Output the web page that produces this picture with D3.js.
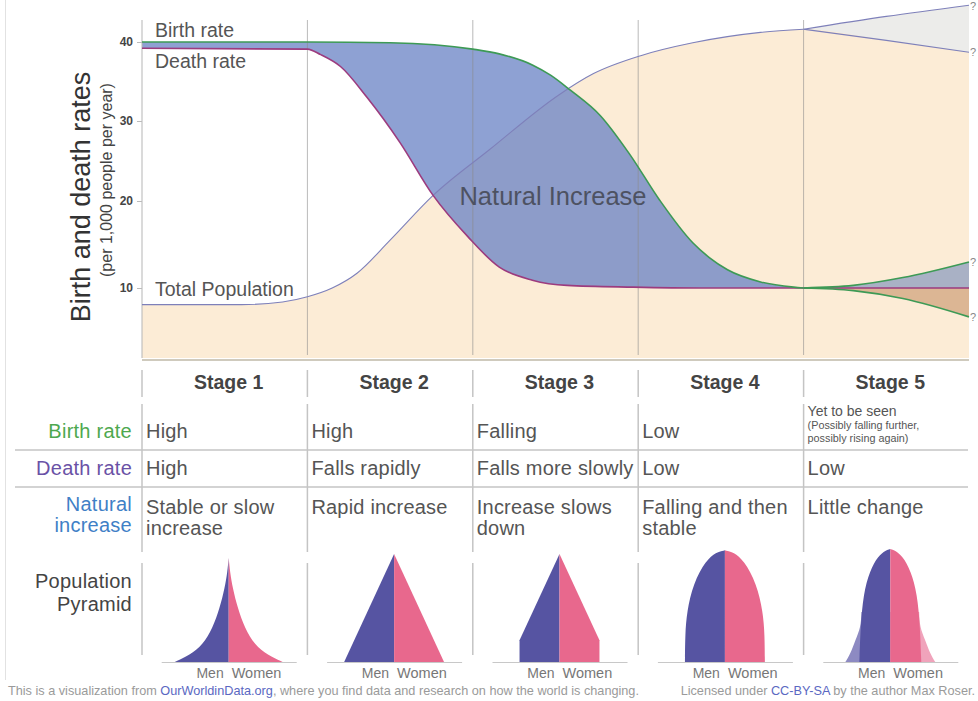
<!DOCTYPE html>
<html lang="en">
<head>
  <meta charset="utf-8">
  <title>Demographic transition</title>
  <script src="https://cdn.jsdelivr.net/npm/d3@7"></script>
  <style>
    body { margin: 0; background: #fff; }
    svg text { font-family: "Liberation Sans", Arial, Helvetica, sans-serif; }
  </style>
</head>
<body>
<svg width="978" height="701"></svg>
<script>
  // ---- data (x in stage units 0..5, y in births/deaths per 1,000) ----
  const stages = ["Stage 1", "Stage 2", "Stage 3", "Stage 4", "Stage 5"];
  const yTicks = [10, 20, 30, 40];

  const birthRate = [[0, 40], [1, 40], [1.5, 39.9], [2, 39.1], [2.16, 38.5], [2.36, 37.1], [2.47, 35.8],
    [2.59, 33.9], [2.77, 30.7], [2.95, 25.8], [3.13, 20.1], [3.33, 15.2], [3.43, 13.5], [3.54, 12.1],
    [3.74, 10.7], [3.94, 10.1], [4, 10]];
  const birthHigh5 = [[4, 10], [4.3, 10.3], [4.6, 11.2], [5, 13]];
  const birthLow5 = [[4, 10], [4.3, 9.7], [4.6, 8.8], [5, 6.7]];

  const deathRate = [[0, 39.2], [1, 39.1], [1.08, 38.4], [1.2, 36.9], [1.36, 33], [1.56, 27.3], [1.76, 20.7],
    [1.97, 15.9], [2.16, 12.4], [2.36, 10.9], [2.57, 10.3], [2.97, 10.1], [3.37, 10], [4, 10], [5, 10]];

  const population = [[0, 8.1], [0.6, 8.1], [0.85, 8.4], [1, 9], [1.15, 10], [1.3, 11.7], [1.5, 15.5],
    [1.76, 20.7], [2.1, 26.4], [2.52, 33.3], [2.73, 36.0], [3.02, 38.3], [3.33, 39.9], [3.74, 41.2], [4, 41.6]];
  const popHigh5 = [[4, 41.6], [4.5, 43.2], [5, 44.6]];
  const popLow5 = [[4, 41.6], [4.5, 40.2], [5, 38.7]];

  const birthText = ["High", "High", "Falling", "Low", null];
  const birthText5 = ["Yet to be seen", "(Possibly falling further,", "possibly rising again)"];
  const deathText = ["High", "Falls rapidly", "Falls more slowly", "Low", "Low"];
  const naturalText = [["Stable or slow", "increase"], ["Rapid increase"], ["Increase slows", "down"],
    ["Falling and then", "stable"], ["Little change"]];

  // pyramid profiles: [height, half width], both 0..100
  const pyramids = [
    [[0, 48.6], [6.3, 35.1], [15.3, 23.4], [30.6, 14.4], [48.6, 8.1], [66.7, 3.6], [81, 1.2], [93.7, 0]],
    [[0, 45], [97.3, 0]],
    [[0, 36], [19.5, 36], [97.3, 0]],
    [[0, 36], [25, 35.8], [45, 34.3], [70.7, 28.6], [91.6, 17], [99, 8], [100.6, 0]],
    [[0, 27.9], [31.5, 26.8], [61.3, 24.3], [82, 18.5], [95.5, 11], [100.6, 4], [101.8, 0]]
  ];
  const pyramidTail5 = [[0, 40.5], [7.2, 36], [19.8, 31.5], [31.5, 26.5], [45, 26]];

  // ---- setup ----
  const svg = d3.select("svg");
  const x = d3.scaleLinear().domain([0, 5]).range([142, 969]);
  const y = d3.scaleLinear().domain([2, 10, 20, 30, 40, 45]).range([358, 288, 201, 121, 42, 2]);
  const plotBottom = 358;

  const line = d3.line().x(d => x(d[0])).y(d => y(d[1])).curve(d3.curveMonotoneX);
  const areaBelow = d3.area().x(d => x(d[0])).y0(plotBottom).y1(d => y(d[1])).curve(d3.curveMonotoneX);
  const areaAbove = d3.area().x(d => x(d[0])).y0(0).y1(d => y(d[1])).curve(d3.curveMonotoneX);

  // faint frame on the left
  svg.append("line").attr("x1", 5.5).attr("x2", 5.5).attr("y1", 0).attr("y2", 680)
    .attr("stroke", "#e2e2e2");

  // population fills
  svg.append("path").datum(popHigh5).attr("d", areaBelow).attr("fill", "#ececea");
  svg.append("path").datum(population.concat(popLow5.slice(1))).attr("d", areaBelow).attr("fill", "#fcecd6");

  // natural increase: below birth rate and above death rate
  svg.append("clipPath").attr("id", "aboveDeath")
    .append("path").datum(deathRate).attr("d", areaAbove);
  svg.append("path").datum(birthRate).attr("d", areaBelow)
    .attr("clip-path", "url(#aboveDeath)")
    .attr("fill", "rgb(104,130,196)").attr("fill-opacity", 0.75);

  // stage 5 fills
  const deathLevel5 = deathRate[deathRate.length - 1][1];
  const area5 = d3.area().x(d => x(d[0])).y0(y(deathLevel5)).y1(d => y(d[1])).curve(d3.curveMonotoneX);
  svg.append("path").datum(birthHigh5).attr("d", area5).attr("fill", "#a9b1c5");
  svg.append("path").datum(birthLow5).attr("d", area5).attr("fill", "#dcb694");

  // stage dividers and axis
  svg.selectAll(".div").data([1, 2, 3, 4]).enter().append("line")
    .attr("x1", d => x(d)).attr("x2", d => x(d)).attr("y1", 20).attr("y2", 355)
    .attr("stroke", "#8a8a8a").attr("stroke-opacity", 0.6);
  svg.append("line").attr("x1", x(0)).attr("x2", x(0)).attr("y1", 20).attr("y2", plotBottom)
    .attr("stroke", "#b5b5b5");
  svg.append("line").attr("x1", x(0)).attr("x2", x(5)).attr("y1", 360).attr("y2", 360)
    .attr("stroke", "#cfcabd").attr("stroke-width", 2);

  const yAxis = svg.append("g").attr("transform", `translate(${x(0)},0)`)
    .call(d3.axisLeft(y).tickValues(yTicks).tickSize(5).tickPadding(4));
  yAxis.select(".domain").remove();
  yAxis.selectAll(".tick line").attr("stroke", "#bbb");
  yAxis.selectAll(".tick text").attr("fill", "#444").attr("font-size", 12).attr("font-weight", "bold")
    .style("font-family", "'Liberation Sans', Arial, sans-serif");

  // lines
  [population, popHigh5, popLow5].forEach(s => {
    svg.append("path").datum(s).attr("d", line).attr("fill", "none")
      .attr("stroke", "#7e80ba").attr("stroke-width", 1.1);
  });
  svg.append("path").datum(deathRate).attr("d", line).attr("fill", "none")
    .attr("stroke", "#9c3b7e").attr("stroke-width", 1.6);
  [birthRate, birthHigh5, birthLow5].forEach(s => {
    svg.append("path").datum(s).attr("d", line).attr("fill", "none")
      .attr("stroke", "#3d9a55").attr("stroke-width", 1.6);
  });

  // question marks at the open ends
  [popHigh5, popLow5, birthHigh5, birthLow5].forEach(s => {
    const last = s[s.length - 1];
    svg.append("text").attr("x", x(last[0]) + 1).attr("y", Math.max(y(last[1]) + 4, 10))
      .attr("font-size", 11).attr("fill", "#888").text("?");
  });

  // chart labels
  const lab = (tx, ty, t, size) => svg.append("text").attr("x", tx).attr("y", ty)
    .attr("font-size", size).attr("fill", "#555").text(t);
  lab(155, 37, "Birth rate", 19.5);
  lab(155, 68, "Death rate", 19.5);
  lab(155, 296, "Total Population", 19.5);
  svg.append("text").attr("x", 553).attr("y", 205).attr("text-anchor", "middle")
    .attr("font-size", 25.5).attr("fill", "#4d5262").text("Natural Increase");

  svg.append("text").attr("transform", "translate(90,197) rotate(-90)").attr("text-anchor", "middle")
    .attr("font-size", 27).attr("fill", "#333").text("Birth and death rates");
  svg.append("text").attr("transform", "translate(112,180) rotate(-90)").attr("text-anchor", "middle")
    .attr("font-size", 16).attr("fill", "#444").text("(per 1,000 people per year)");

  // ---- table ----
  const vline = (y1, y2) => svg.selectAll(null).data(d3.range(5)).enter().append("line")
    .attr("x1", d => x(d)).attr("x2", d => x(d)).attr("y1", y1).attr("y2", y2)
    .attr("stroke", "#c4c4c4").attr("stroke-width", 1.5);
  vline(370, 397);
  vline(404, 552);
  vline(563, 655);
  [450, 487].forEach(hy => svg.append("line").attr("x1", 15).attr("x2", 968)
    .attr("y1", hy).attr("y2", hy).attr("stroke", "#c4c4c4").attr("stroke-width", 1.5));

  svg.selectAll(".stage").data(stages).enter().append("text")
    .attr("x", (d, i) => x(i + 0.5) + 4).attr("y", 389).attr("text-anchor", "middle")
    .attr("font-size", 19.5).attr("font-weight", "bold").attr("fill", "#444").text(d => d);

  const rowLabel = (ty, t, color) => svg.append("text").attr("x", 132).attr("y", ty)
    .attr("text-anchor", "end").attr("font-size", 20).attr("letter-spacing", 0.25)
    .attr("fill", color).text(t);
  rowLabel(438, "Birth rate", "#4ea84f");
  rowLabel(475, "Death rate", "#6a52a6");
  rowLabel(511, "Natural", "#3f80c6");
  rowLabel(532, "increase", "#3f80c6");
  rowLabel(588, "Population", "#444");
  rowLabel(611, "Pyramid", "#444");

  const cell = (i, ty, t, size) => svg.append("text").attr("x", x(i) + 4).attr("y", ty)
    .attr("font-size", size || 20).attr("letter-spacing", size ? 0 : 0.2).attr("fill", "#555").text(t);
  birthText.forEach((t, i) => { if (t) cell(i, 438, t); });
  cell(4, 416, birthText5[0], 14);
  cell(4, 429, birthText5[1], 10.8);
  cell(4, 442, birthText5[2], 10.8);
  deathText.forEach((t, i) => cell(i, 475, t));
  naturalText.forEach((lines, i) => lines.forEach((t, j) => cell(i, 514 + j * 21, t)));

  // ---- pyramids ----
  const pyY = d3.scaleLinear().domain([0, 100]).range([662, 551]);
  const pyW = d3.scaleLinear().domain([0, 100]).range([0, 111]);
  const curves = [d3.curveBasis, d3.curveLinear, d3.curveLinear, d3.curveBasis, d3.curveBasis];

  pyramids.forEach((prof, i) => {
    const cx = x(i + 0.5) + 4;
    const men = d3.area().y(d => pyY(d[0])).x0(d => cx - pyW(d[1])).x1(cx).curve(curves[i]);
    const women = d3.area().y(d => pyY(d[0])).x0(cx).x1(d => cx + pyW(d[1])).curve(curves[i]);
    if (i === 4) {
      svg.append("path").datum(pyramidTail5).attr("d", men).attr("fill", "#8d8ac2");
      svg.append("path").datum(pyramidTail5).attr("d", women).attr("fill", "#f0a3bb");
    }
    svg.append("path").datum(prof).attr("d", men).attr("fill", "#5654a2");
    svg.append("path").datum(prof).attr("d", women).attr("fill", "#e8688d");
    svg.append("line").attr("x1", cx - 67).attr("x2", cx + 68).attr("y1", 662.5).attr("y2", 662.5)
      .attr("stroke", "#c8c8c8").attr("stroke-width", 1.2);
    svg.append("text").attr("x", cx - 5).attr("y", 678).attr("text-anchor", "end")
      .attr("font-size", 14).attr("fill", "#777").text("Men");
    svg.append("text").attr("x", cx + 3).attr("y", 678)
      .attr("font-size", 14.5).attr("fill", "#777").text("Women");
  });

  // ---- footer ----
  const f1 = svg.append("text").attr("x", 8).attr("y", 695).attr("font-size", 12.7).attr("fill", "#9a9a9a");
  f1.append("tspan").text("This is a visualization from ");
  f1.append("tspan").attr("fill", "#5a68c2").text("OurWorldinData.org");
  f1.append("tspan").text(", where you find data and research on how the world is changing.");
  const f2 = svg.append("text").attr("x", 975).attr("y", 695).attr("text-anchor", "end")
    .attr("font-size", 12.7).attr("fill", "#9a9a9a");
  f2.append("tspan").text("Licensed under ");
  f2.append("tspan").attr("fill", "#5a68c2").text("CC-BY-SA");
  f2.append("tspan").text(" by the author Max Roser.");
</script>
</body>
</html>
